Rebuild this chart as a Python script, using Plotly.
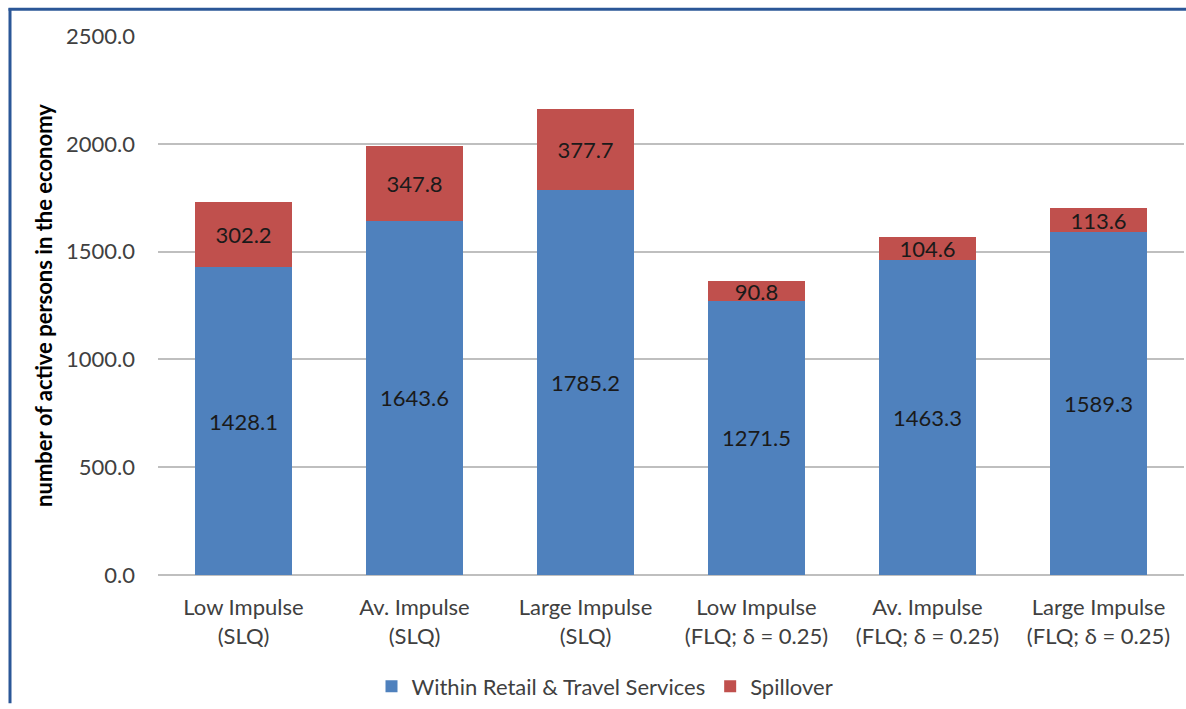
import plotly.graph_objects as go

categories = [
    "Low Impulse<br>(SLQ)",
    "Av. Impulse<br>(SLQ)",
    "Large Impulse<br>(SLQ)",
    "Low Impulse<br>(FLQ; δ = 0.25)",
    "Av. Impulse<br>(FLQ; δ = 0.25)",
    "Large Impulse<br>(FLQ; δ = 0.25)",
]
within = [1428.1, 1643.6, 1785.2, 1271.5, 1463.3, 1589.3]
spillover = [302.2, 347.8, 377.7, 90.8, 104.6, 113.6]
tick_vals = [0, 500, 1000, 1500, 2000, 2500]

FONT = "Lato"
FS = 22
W, H = 1186, 709
L, R, T, B = 158, 2, 36, 127
pw, ph = W - L - R, H - T - B

def px(x):
    return (x - L) / pw

def py(y):
    return (H - B - y) / ph

fig = go.Figure()
fig.add_trace(go.Bar(
    x=categories, y=within, name="Within Retail & Travel Services",
    marker=dict(color="#4F81BD", line=dict(width=0)),
    text=[f"{v:.1f}" for v in within], textposition="inside",
    insidetextanchor="middle",
    textfont=dict(family=FONT, size=FS, color="#1a1a1a"),
))
fig.add_trace(go.Bar(
    x=categories, y=spillover, name="Spillover",
    marker=dict(color="#C0504D", line=dict(width=0)),
    text=[f"{v:.1f}" for v in spillover], textposition="inside",
    insidetextanchor="middle",
    textfont=dict(family=FONT, size=FS, color="#1a1a1a"),
))

fig.update_layout(
    barmode="stack",
    bargap=0.43,
    width=W, height=H,
    margin=dict(l=L, r=R, t=T, b=B, pad=0),
    paper_bgcolor="white", plot_bgcolor="white",
    font=dict(family=FONT, size=FS, color="#404040"),
    uniformtext=dict(minsize=FS, mode="show"),
    showlegend=True,
    legend=dict(orientation="h", x=px(605), xanchor="center", y=py(695), yanchor="middle",
                font=dict(family=FONT, size=FS, color="#404040"), traceorder="normal",
                itemwidth=30),
    yaxis=dict(
        range=[0, 2500], tickvals=tick_vals, tickformat=".1f",
        showgrid=True, gridcolor="#BFBFBF", gridwidth=1.5,
        zeroline=True, zerolinecolor="#BFBFBF", zerolinewidth=1.5,
        showline=False, ticks="", ticklabelstandoff=22,
        tickfont=dict(family=FONT, size=FS, color="#404040"),
        title=dict(text="<b>number of active persons in the economy</b>",
                   font=dict(family=FONT, size=22, color="#000000"), standoff=7),
    ),
    xaxis=dict(
        showline=False, ticks="", showgrid=False,
        tickfont=dict(family=FONT, size=FS, color="#404040"),
        ticklabelstandoff=17,
    ),
    shapes=[
        dict(type="line", xref="paper", yref="paper", x0=px(10), x1=px(10), y0=py(8), y1=py(712),
             line=dict(color="#2B5797", width=3)),
        dict(type="line", xref="paper", yref="paper", x0=px(8.5), x1=px(1190), y0=py(9), y1=py(9),
             line=dict(color="#2B5797", width=3)),
    ],
)

fig.write_html("out.html")
